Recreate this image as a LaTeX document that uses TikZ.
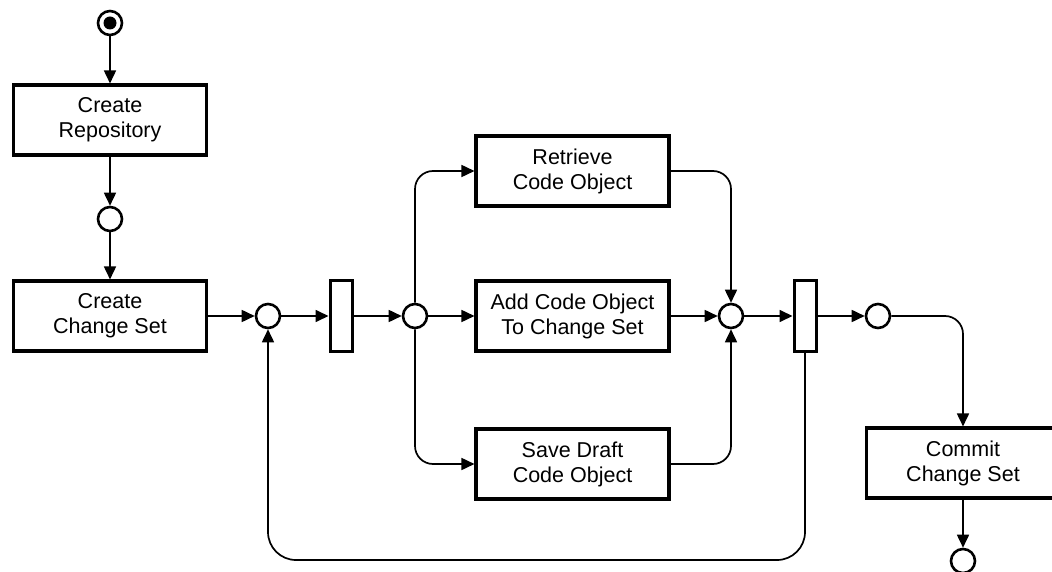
\documentclass[tikz,border=0pt]{standalone}
\usepackage{fontspec}
\setmainfont{Liberation Sans}
\usetikzlibrary{arrows.meta}
\begin{document}
\begin{tikzpicture}[x=1pt,y=-1pt,
  every node/.style={font=\fontsize{21.5}{25}\selectfont},
  actbox/.style={draw,line width=3.1pt,minimum width=193pt,minimum height=70pt,inner sep=0pt,align=center},
  mergec/.style={draw,circle,line width=2.6pt,minimum size=24pt,inner sep=0pt},
  barbox/.style={draw,line width=3pt,minimum width=22pt,minimum height=71pt,inner sep=0pt},
  conn/.style={line width=1.7pt,-{Triangle[length=13pt,width=12pt]}},
  plain/.style={line width=1.7pt}]
\useasboundingbox (0,0) rectangle (1052,572);
% start
\node[mergec] (start) at (110,23) {};
\fill (start.center) circle (6.5pt);
\node[actbox] (repo) at (110,120) {Create\\Repository};
\node[mergec] (c1) at (110,219) {};
\node[actbox] (cs) at (110,316) {Create\\Change Set};
\node[mergec] (c2) at (268,316) {};
\node[barbox] (bar1) at (341,316) {};
\node[mergec] (c3) at (415,316) {};
\node[actbox] (ret) at (572.5,171) {Retrieve\\Code Object};
\node[actbox] (add) at (572.5,316) {Add Code Object\\To Change Set};
\node[actbox] (save) at (572.5,464) {Save Draft\\Code Object};
\node[mergec] (c4) at (731,316) {};
\node[barbox] (bar2) at (805,316) {};
\node[mergec] (c5) at (878,316) {};
\node[actbox] (commit) at (963,463) {Commit\\Change Set};
\node[mergec] (end) at (963,561) {};
\coordinate (loopy) at (540,560);
% connectors
\draw[conn] (start) -- (repo);
\draw[conn] (repo) -- (c1);
\draw[conn] (c1) -- (cs);
\draw[conn] (cs) -- (c2);
\draw[conn] (c2) -- (bar1);
\draw[conn] (bar1) -- (c3);
\draw[conn,rounded corners=18pt] (c3.north) |- (ret.west);
\draw[conn] (c3) -- (add);
\draw[conn,rounded corners=18pt] (c3.south) |- (save.west);
\draw[conn,rounded corners=18pt] (ret.east) -| (c4.north);
\draw[conn] (add) -- (c4);
\draw[conn,rounded corners=18pt] (save.east) -| (c4.south);
\draw[conn] (c4) -- (bar2);
\draw[conn] (bar2) -- (c5);
\draw[conn,rounded corners=18pt] (c5.east) -| (commit.north);
\draw[conn] (commit) -- (end);
\draw[conn,rounded corners=28pt] (bar2.south) |- (loopy) -| (c2.south);
\end{tikzpicture}
\end{document}
